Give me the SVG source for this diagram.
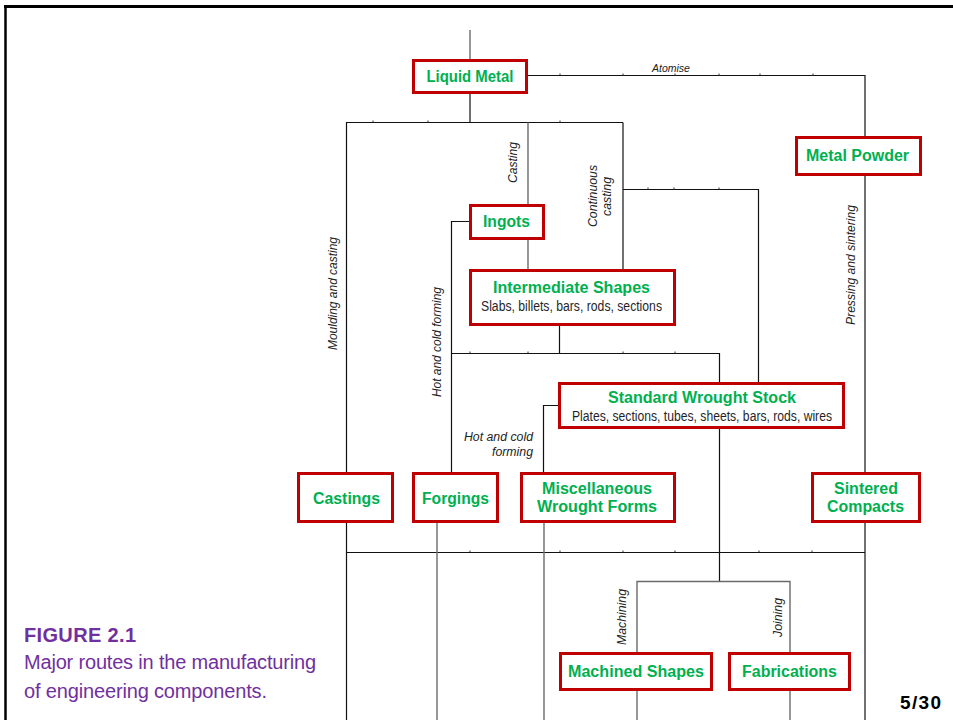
<svg xmlns="http://www.w3.org/2000/svg" width="953" height="720" viewBox="0 0 953 720">
<style>
.box{fill:#fff;stroke:#c00000;stroke-width:3}
.t{font-family:"Liberation Sans",Arial,sans-serif;font-weight:bold;font-size:16px;fill:#00b050;text-anchor:middle}
.s{font-family:"Liberation Sans",Arial,sans-serif;font-size:14px;fill:#1f1f2a;text-anchor:middle}
.lab{font-family:"Liberation Sans",Arial,sans-serif;font-style:italic;font-size:12px;fill:#222;text-anchor:middle}
.ln{fill:none;stroke:#111;stroke-width:1.2}
.lg{fill:none;stroke:#6a6a6a;stroke-width:1.4}
.tick{fill:none;stroke:#333;stroke-width:1}
.cap{font-family:"Liberation Sans",Arial,sans-serif;fill:#7030a0;font-size:20px}
</style>
<rect width="953" height="720" fill="#fff"/>
<g id="frame">
<path d="M4,6.5 H953" stroke="#000" stroke-width="3" fill="none"/>
<path d="M5.5,5 V720" stroke="#000" stroke-width="2.5" fill="none"/>
</g>
<g id="connectors">
<path class="lg" d="M470,30 V60"/>
<path class="ln" d="M470,93 V122.5"/>
<path class="ln" d="M346,122.5 H623"/>
<path class="ln" d="M346.5,122.5 V473"/>
<path class="ln" d="M528,75.5 H865 V137"/>
<path class="lg" d="M528,122.5 V205"/>
<path class="lg" d="M528,240 V270"/>
<path class="ln" d="M623,122.5 V270"/>
<path class="ln" d="M623,189.5 H758.5 V383"/>
<path class="ln" d="M470,221.5 H451.5 V473"/>
<path class="ln" d="M559.5,326 V353.5"/>
<path class="ln" d="M451.5,353.5 H719.5 V383"/>
<path class="ln" d="M558,405.5 H543.5 V473"/>
<path class="ln" d="M865,176 V473"/>
<path class="ln" d="M346.5,523 V720"/>
<path class="ln" d="M346.5,552.5 H865"/>
<path class="lg" d="M437,523 V720"/>
<path class="lg" d="M544,523 V720"/>
<path class="ln" d="M865,523 V720"/>
<path class="ln" d="M719.5,429 V581.5"/>
<path class="lg" d="M637,653 V581.5 H790 V653"/>
<path class="lg" d="M637,691 V720"/>
<path class="lg" d="M790,691 V720"/>
<path class="tick" d="M560,75.5 v-2 M623,75.5 v-2 M675,75.5 v-2 M719,75.5 v-2 M760,75.5 v-2 M813,75.5 v-2 M373,122.5 v-2 M428,122.5 v-2 M560,122.5 v-2 M648,189.5 v-2 M674,189.5 v-2 M719,189.5 v-2 M470,353.5 v-2 M528,353.5 v-2 M623,353.5 v-2 M675,353.5 v-2 M470,552.5 v-2 M560,552.5 v-2 M623,552.5 v-2 M675,552.5 v-2 M759,552.5 v-2 M812,552.5 v-2"/>
<text class="lab" x="671" y="72" style="font-size:10.5px">Atomise</text>
<text class="lab" transform="translate(517,162.5) rotate(-90)" textLength="41" lengthAdjust="spacingAndGlyphs">Casting</text>
<text class="lab" transform="translate(597,196) rotate(-90)" textLength="62" lengthAdjust="spacingAndGlyphs">Continuous</text>
<text class="lab" transform="translate(610.5,196.5) rotate(-90)" textLength="39" lengthAdjust="spacingAndGlyphs">casting</text>
<text class="lab" transform="translate(337,293.5) rotate(-90)" textLength="113" lengthAdjust="spacingAndGlyphs">Moulding and casting</text>
<text class="lab" transform="translate(441,342) rotate(-90)" textLength="110" lengthAdjust="spacingAndGlyphs">Hot and cold forming</text>
<text class="lab" transform="translate(855,265) rotate(-90)" textLength="120" lengthAdjust="spacingAndGlyphs">Pressing and sintering</text>
<text class="lab" transform="translate(626,617) rotate(-90)" textLength="56" lengthAdjust="spacingAndGlyphs">Machining</text>
<text class="lab" transform="translate(782,617.5) rotate(-90)" textLength="39" lengthAdjust="spacingAndGlyphs">Joining</text>
<text class="lab" x="533" y="441" style="text-anchor:end" textLength="69" lengthAdjust="spacingAndGlyphs">Hot and cold</text>
<text class="lab" x="533" y="456" style="text-anchor:end" textLength="41" lengthAdjust="spacingAndGlyphs">forming</text>
</g>
<g id="liquid-metal">
<rect class="box" x="413.5" y="60.5" width="113" height="32"/>
<text class="t" x="470" y="82" textLength="87" lengthAdjust="spacingAndGlyphs">Liquid Metal</text>
</g>
<g id="metal-powder">
<rect class="box" x="796.5" y="137.5" width="124" height="37"/>
<text class="t" x="857.5" y="161" textLength="103" lengthAdjust="spacingAndGlyphs">Metal Powder</text>
</g>
<g id="ingots">
<rect class="box" x="470.5" y="205.5" width="73" height="33"/>
<text class="t" x="506.5" y="227" textLength="47" lengthAdjust="spacingAndGlyphs">Ingots</text>
</g>
<g id="intermediate-shapes">
<rect class="box" x="470.5" y="270.5" width="204" height="54"/>
<text class="t" x="571.5" y="293" textLength="157" lengthAdjust="spacingAndGlyphs">Intermediate Shapes</text>
<text class="s" x="571.5" y="311" textLength="181" lengthAdjust="spacingAndGlyphs">Slabs, billets, bars, rods, sections</text>
</g>
<g id="standard-wrought-stock">
<rect class="box" x="559.5" y="383.5" width="284" height="44"/>
<text class="t" x="702" y="403" textLength="188" lengthAdjust="spacingAndGlyphs">Standard Wrought Stock</text>
<text class="s" x="702" y="421" textLength="260" lengthAdjust="spacingAndGlyphs">Plates, sections, tubes, sheets, bars, rods, wires</text>
</g>
<g id="castings">
<rect class="box" x="298.5" y="473.5" width="94" height="48"/>
<text class="t" x="346.5" y="504" textLength="67" lengthAdjust="spacingAndGlyphs">Castings</text>
</g>
<g id="forgings">
<rect class="box" x="413.5" y="473.5" width="84" height="48"/>
<text class="t" x="455.5" y="504" textLength="67" lengthAdjust="spacingAndGlyphs">Forgings</text>
</g>
<g id="misc-wrought-forms">
<rect class="box" x="521.5" y="473.5" width="153" height="48"/>
<text class="t" x="597" y="494" textLength="110" lengthAdjust="spacingAndGlyphs">Miscellaneous</text>
<text class="t" x="597" y="512" textLength="120" lengthAdjust="spacingAndGlyphs">Wrought Forms</text>
</g>
<g id="sintered-compacts">
<rect class="box" x="812.5" y="473.5" width="107" height="48"/>
<text class="t" x="866" y="494" textLength="64" lengthAdjust="spacingAndGlyphs">Sintered</text>
<text class="t" x="865.5" y="512" textLength="77" lengthAdjust="spacingAndGlyphs">Compacts</text>
</g>
<g id="machined-shapes">
<rect class="box" x="560.5" y="653.5" width="151" height="36"/>
<text class="t" x="636" y="677" textLength="136" lengthAdjust="spacingAndGlyphs">Machined Shapes</text>
</g>
<g id="fabrications">
<rect class="box" x="729.5" y="653.5" width="120" height="36"/>
<text class="t" x="789.5" y="677" textLength="95" lengthAdjust="spacingAndGlyphs">Fabrications</text>
</g>
<g id="caption">
<text class="cap" x="24" y="642" font-weight="bold" textLength="112">FIGURE 2.1</text>
<text class="cap" x="24" y="668.5" textLength="292">Major routes in the manufacturing</text>
<text class="cap" x="24" y="697.5" textLength="243">of engineering components.</text>
</g>
<text x="941" y="709" font-family="'Liberation Sans',Arial,sans-serif" font-weight="bold" font-size="19" text-anchor="end" fill="#000" textLength="41">5/30</text>
</svg>
